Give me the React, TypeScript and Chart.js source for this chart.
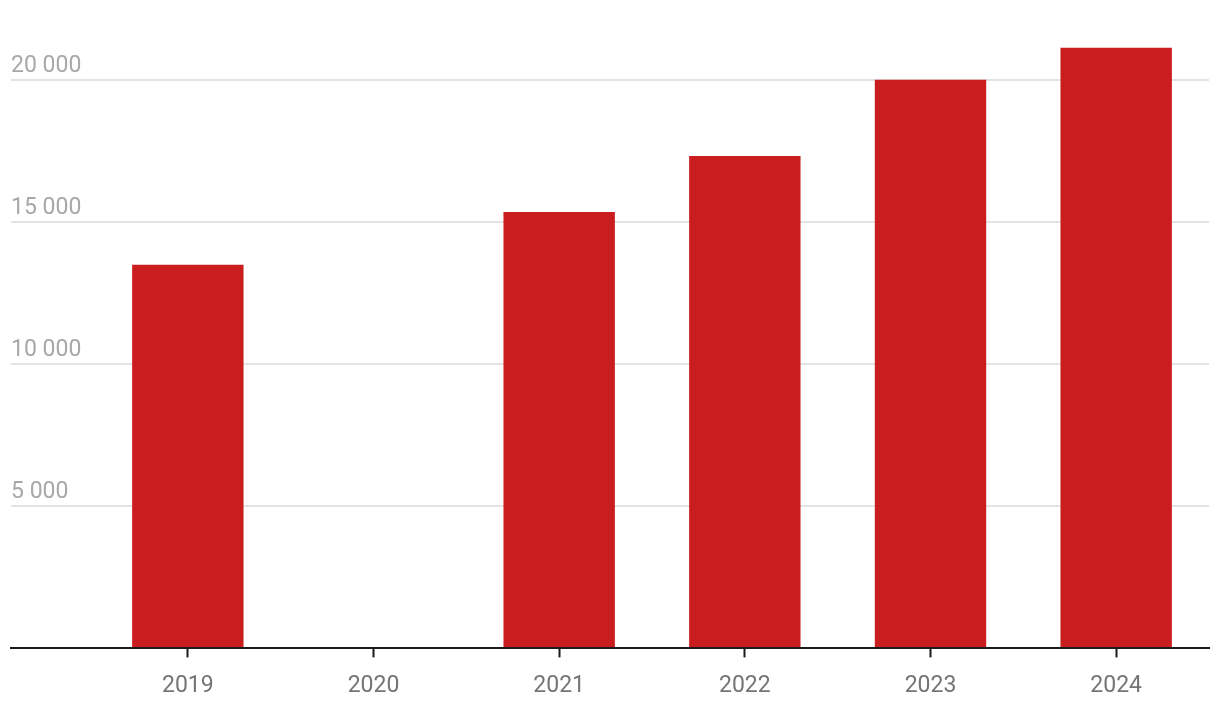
import React, { useEffect, useRef } from "react";
import { Chart, registerables } from "chart.js";

Chart.register(...registerables);

const categories = ["2019", "2020", "2021", "2022", "2023", "2024"];
const values: (number | null)[] = [13500, null, 15350, 17320, 20000, 21130];
const yTicks = [5000, 10000, 15000, 20000];
const yTickLabels = ["5 000", "10 000", "15 000", "20 000"];

const FONT = "Roboto, 'Noto Sans', sans-serif";

const overlay = {
  id: "overlay",
  beforeDatasetsDraw(chart: any) {
    const { ctx } = chart;
    const y = chart.scales.y;
    ctx.save();
    ctx.strokeStyle = "#e3e3e3";
    ctx.lineWidth = 2;
    yTicks.forEach((v, i) => {
      const py = Math.round(y.getPixelForValue(v));
      ctx.beginPath();
      ctx.moveTo(11, py);
      ctx.lineTo(1209, py);
      ctx.stroke();
      ctx.fillStyle = "#a8a8a8";
      ctx.font = `23px ${FONT}`;
      ctx.textAlign = "left";
      ctx.textBaseline = "alphabetic";
      ctx.fillText(yTickLabels[i], 11, py - 8);
    });
    ctx.restore();
  },
  afterDatasetsDraw(chart: any) {
    const { ctx } = chart;
    const y = chart.scales.y;
    const py = Math.round(y.getPixelForValue(0));
    ctx.save();
    ctx.strokeStyle = "#1a1a1a";
    ctx.lineWidth = 2;
    ctx.beginPath();
    ctx.moveTo(10, py);
    ctx.lineTo(1210, py);
    ctx.stroke();
    ctx.restore();
  },
};

export default function App() {
  const ref = useRef<HTMLCanvasElement>(null);
  useEffect(() => {
    const chart = new Chart(ref.current!, {
      type: "bar",
      data: {
        labels: categories,
        datasets: [
          {
            data: values,
            backgroundColor: "#c91d1f",
            barPercentage: 0.6,
            categoryPercentage: 1,
          },
        ],
      },
      options: {
        animation: false,
        responsive: true,
        maintainAspectRatio: false,
        layout: { padding: { left: 95, right: 11, top: 23, bottom: 2 } },
        plugins: { legend: { display: false }, tooltip: { enabled: false } },
        scales: {
          x: {
            grid: {
              display: true,
              offset: false,
              drawOnChartArea: false,
              drawTicks: true,
              tickLength: 9,
              tickWidth: 2,
              tickColor: "#1a1a1a",
            },
            border: { display: false },
            ticks: {
              color: "#757575",
              font: { family: FONT, size: 23 },
              padding: 15,
            },
          },
          y: {
            display: false,
            min: 0,
            max: 22000,
          },
        },
      },
      plugins: [overlay],
    });
    return () => chart.destroy();
  }, []);
  return (
    <div style={{ position: "fixed", left: 0, top: 0, width: 1220, height: 717, background: "#fff" }}>
      <canvas ref={ref} />
    </div>
  );
}
